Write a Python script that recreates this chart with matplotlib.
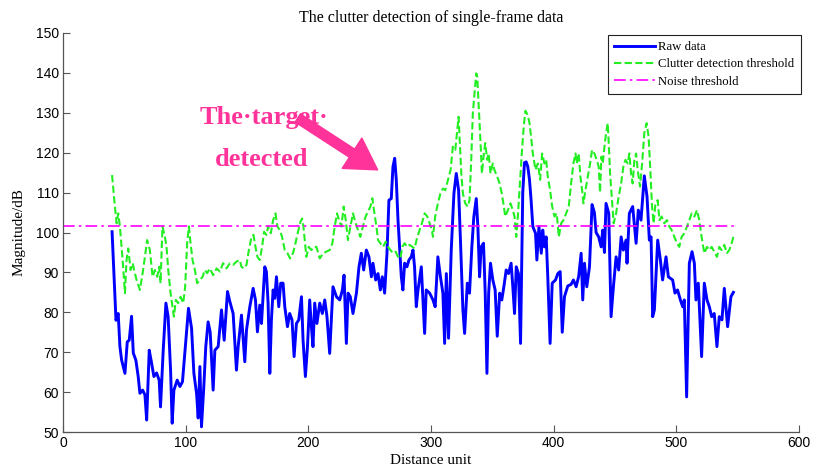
"""Clutter detection of single-frame data (raw data vs. thresholds)."""

import matplotlib
matplotlib.use("Agg")
import matplotlib.pyplot as plt

# Raw data (blue)
raw_x = [40, 43.2, 45, 46.4, 47.8, 50.5, 52.4, 54, 55.9, 57.3, 59.4, 61.3, 62.7, 64.9,
         66.8, 68.2, 70.3, 72.2, 74.1, 76.3, 78.4, 79.5, 81.7, 83.9, 85.7, 87.7, 89,
         90.4, 93.1, 95.3, 97.4, 100.2, 102.3, 104.8, 106.7, 108.9, 110.2, 111.6, 112.9,
         114.8, 116.4, 118.3, 120, 122.4, 123.8, 126.5, 129.2, 131.4, 134.1, 136, 138.7,
         141.4, 142.8, 145.5, 148.2, 149.6, 152.3, 155, 156.9, 158.5, 160.4, 161.8,
         164.5, 165.8, 167.2, 168.6, 169.9, 171.3, 172.6, 174, 175.9, 177.5, 179.4,
         180.8, 183, 184.8, 186.7, 188.4, 190.3, 192.2, 194.4, 195.7, 197.6, 199.3,
         201.1, 202.5, 203.8, 205.2, 207, 209.3, 211.4, 213.4, 215.2, 217.4, 220.1,
         222.9, 225.6, 227.8, 229.1, 231, 232.4, 234.2, 236.4, 237.8, 239.2, 241.3,
         243.2, 245.1, 247.3, 249.4, 251.4, 252.7, 254.9, 256.8, 258.7, 260.3, 262.2,
         264.1, 265.7, 267.6, 269, 270.4, 271.7, 273.1, 274.4, 275.8, 277.1, 278.5,
         280.4, 282, 283.9, 285.3, 286.6, 288, 289.4, 292.1, 294.8, 296.1, 298.9, 301.6,
         303.4, 305.6, 307.7, 309.7, 311.1, 312.5, 314.3, 316.5, 318.7, 320.6, 322.5,
         324.1, 326, 327.4, 329.6, 331.4, 333.3, 334.9, 336.9, 338.2, 339.6, 340.9,
         342.8, 344.2, 345.6, 347, 348.5, 350.4, 352.3, 354, 356, 357.7, 359.4, 361.3,
         363.2, 365.3, 366.7, 368.1, 369.5, 371.3, 373, 374.8, 376.2, 377.6, 378.9,
         380.3, 381.6, 383, 385.2, 386.3, 388, 389.9, 391.1, 392.5, 393.9, 395.2, 397.1,
         398.8, 401.5, 403.4, 405.3, 407, 408.8, 411.5, 414.2, 416.1, 418.3, 420.4,
         422.4, 423.7, 425.1, 427, 429.2, 431.3, 433.2, 434.6, 436.7, 438.7, 440, 441.4,
         442.7, 444.9, 446.8, 448.7, 450.9, 453, 455, 456.8, 459, 459.8, 461.7, 464.4,
         467.2, 469, 471.2, 473.9, 476.1, 478, 479.4, 480.7, 482.1, 484.8, 487, 488.8,
         491.6, 493.5, 497, 498.9, 501, 503.3, 505.2, 506.5, 508.4, 510.6, 512.8, 514.7,
         516, 517.9, 520.6, 522.8, 525, 526.9, 528.8, 530.9, 533.1, 535, 537.2, 539.1,
         541.8, 544.5, 546.5]
raw_db = [100.2, 78, 79.7, 71.4, 68, 64.7, 72.6, 73, 79, 69.8, 68, 63.9, 59.7, 60.5,
          59.3, 53, 70.5, 67.3, 63.9, 64.8, 63, 56.3, 70.5, 82.3, 78.9, 65.5, 52.2,
          60.5, 63, 61.4, 62.6, 73, 81, 76, 64.7, 59.6, 53.5, 66.4, 51.3,
          61.4, 71.4, 77.6, 75, 60.5, 70.5, 71.4, 80.6, 73, 85.2, 82.7, 79.7,
          65.5, 71.4, 79.3, 67.6, 75.6, 81.4, 86, 83.1, 75.1, 81.8, 77.2,
          91.4, 90.2, 82.3, 64.7, 78.1, 85.6, 83.5, 88.9, 81.4, 87.3, 87.3,
          81.4, 76.4, 79.7, 78.1, 68.9, 77.2, 78.1, 83.9, 73, 63.9, 71.4,
          83.1, 76.4, 71.4, 82.3, 77.2, 82.3, 79.7, 83.1, 78.9, 69.7, 86.4,
          83.9, 83.1, 85.6, 89.3, 72.2, 84.8, 83.9, 79.7, 82.3, 84.8, 91.4,
          94.8, 90.6, 95.6, 93.9, 88.9, 92.3, 88.1, 89.7, 85.6, 88.9, 84.8,
          94.8, 108.1, 108.5, 116.5, 118.6, 113.2, 103.1, 96.4, 88.9, 85.6, 92.3,
          91.4, 93.1, 93.9, 95.6, 91.4, 81.4, 85.6, 91.4, 74.7, 85.6, 84.8, 83.1,
          81.4, 93.9, 88.9, 84.8, 72.2, 89.7, 73.5, 95.6, 109.8, 114.8, 110.6,
          97.3, 80.6, 74.7, 87.3, 84.8, 96.4, 103.9, 108.5, 101.5, 88.9, 96.4,
          97.3, 84.8, 64.7, 84.8, 92.3, 88.1, 85.6, 74, 84.8, 83.1, 86.4, 90.6,
          89.7, 92.3, 86.4, 79.7, 91.4, 89.7, 72.2, 110, 117.5, 117.7, 116.5,
          113.2, 108.1, 101.5, 99.8, 93.1, 101.5, 94.8, 100.6, 96.4, 98.9, 88.9, 72.2,
          87.3, 88.1, 89.7, 90.2, 75, 83.9, 86.6, 87, 88.1, 86.4, 89,
          94.8, 83.1, 92.3, 86.4, 91.4, 107, 105, 100, 98.9, 96.4, 100.6, 95,
          107.3, 104.8, 78.9, 86.4, 93.9, 90.6, 98.9, 95.6, 98.1, 92.3, 104.8, 106.5,
          97.3, 105.6, 103.1, 114.2, 109, 98.1, 98.9, 78.9, 80.6, 98.1, 93.1, 88.1,
          93.9, 88.9, 88.1, 84.8, 85.6, 83.1, 81.4, 83.1, 58.8, 92.3, 95.2, 92.3,
          83.1, 87.3, 68.9, 87.3, 83.1, 81.4, 78.9, 79.7, 71.4, 78.9, 78.1, 86,
          76.4, 83.9, 85]

# Clutter detection threshold (green dashed)
clutter_x = [40, 42.3, 43.7, 45, 46.4, 48.6, 50.5, 51.8, 53.2, 55.1, 56.8, 58.6, 60, 62.7,
             64.9, 66.8, 68.6, 70.8, 73, 74.9, 76.8, 78.4, 79.5, 81.1, 83.1, 84.4, 85.8,
             87.7, 89.3, 90.4, 92, 93.9, 95.8, 98, 99.6, 101.2, 102.6, 104, 105.6, 107.5,
             109.4, 111.6, 113.8, 115.6, 117.5, 119.7, 122.4, 125.2, 127.9, 130.5, 133.3,
             136, 138.7, 141.4, 144.1, 145.5, 147.6, 149.6, 151.5, 153.7, 155.3, 156.9,
             158.5, 160.4, 162.3, 163.9, 165.8, 167.2, 169.4, 171.3, 173.2, 174.8, 176.7,
             178.6, 180.8, 183, 185.1, 187.5, 189.5, 191.6, 193.6, 194.9, 196, 197.1,
             198.4, 200.3, 202.5, 204.6, 206.6, 209.3, 212, 214.7, 217.4, 219.6, 221.5,
             223.4, 225, 227, 228.8, 230.5, 232.3, 234.3, 236.4, 238.6, 240.5, 242.4,
             244.5, 246.7, 248.6, 250.6, 252.2, 253.5, 255.5, 256.8, 258.7, 260.9, 263.1,
             264.9, 266.9, 269, 271.2, 273.1, 275, 276.6, 278.5, 280.4, 282.6, 284.8,
             286.6, 288.5, 290.7, 292.6, 294.8, 297, 298.9, 300.7, 301.6, 303.4, 305.6,
             307.7, 309.7, 311.6, 313.8, 316, 317.8, 319.8, 321.4, 322.5, 323.3, 324.7,
             326, 327.9, 330, 331.4, 332.8, 334.1, 335.5, 336.9, 337.7, 338.8, 340.4,
             341.5, 343.1, 344.2, 345.8, 347, 348.5, 350.4, 351.8, 354, 355.9, 357.7,
             359.4, 360.5, 362.7, 364.8, 366.7, 368.1, 369.5, 370.8, 373, 374, 375.7,
             377, 378.9, 380.3, 381.6, 383, 385.2, 387.1, 389, 390.6, 392.5, 393.9,
             395.2, 397.1, 398.8, 400.7, 402.5, 404.2, 406.1, 408, 410.2, 412.3, 414.2,
             416.1, 417.8, 418.8, 420.4, 421.8, 423.2, 424.3, 425.9, 427.8, 429.7, 431.3,
             433.2, 435.1, 436.7, 437.8, 438.9, 440, 441.4, 442.7, 444.1, 444.9, 446,
             447.6, 448.9, 450.9, 453, 455, 456.8, 458.5, 460.4, 461.7, 463.1, 464.4,
             465.8, 467.2, 468.5, 470.4, 472.1, 473.9, 475.8, 477.4, 478.8, 480.2, 481.5,
             482.9, 484.8, 486.2, 488, 490.2, 492.4, 494.3, 496.2, 498.4, 500.6, 502.4,
             504.3, 506.5, 508.7, 510.6, 512.5, 514.7, 516.8, 518.7, 520.6, 522.8, 525,
             526.9, 528.8, 530.9, 533.1, 535, 536.9, 539.1, 541.2, 543.2, 545.1, 546.5]
clutter_db = [114.4, 106.5, 102.3, 104.8, 101.5, 93.1, 84.8, 93.1, 96, 90.6, 92.3, 89.8, 88.1, 85.6,
              89.8, 93.9, 98.1, 95.6, 88.9, 90.6, 88.9, 91.4, 87.3, 101.5, 98.9, 96.4, 90.6,
              84.8, 81.4, 78.9, 83.1, 82.3, 83.9, 82.3, 86.4, 97.3, 101.5, 97.3, 93.1, 90.6,
              87.3, 88.1, 88.9, 90.6, 89.8, 91, 89.3, 91, 90.2, 92.3, 91,
              92.3, 91.9, 92.7, 93.1, 91.4, 91, 91.9, 95.6, 98.9, 99.4, 96.4,
              93.9, 93.1, 96.4, 100.2, 99.4, 101.5, 99.8, 103.1, 104.8, 101.5, 100.6,
              98.9, 95.6, 94.8, 93.5, 94.8, 97.3, 100.2, 102.7, 103.5, 101.5, 98.1,
              93.9, 96.4, 95.6, 96.4, 96.4, 93.5, 94.8, 95.2, 95.6, 97.3, 101.5,
              104.8, 103.1, 101.5, 106.5, 103.1, 98.1, 101.5, 104.8, 102.3, 100.6, 98.9,
              101.5, 104, 105.2, 106.5, 108.6, 105.6, 101.5, 98.1, 97.3, 96.4, 97.7,
              96.4, 95.6, 94.8, 95.2, 93.9, 93.5, 96.4, 97.3, 96.4, 96.9, 96.4,
              96, 98.5, 100.6, 102.3, 104.8, 104, 102.3, 100.6, 98.9, 104, 107.3,
              109.8, 111, 110.6, 113.2, 115.7, 121.5, 120.7, 125.7, 129, 124, 114.8,
              109.8, 107.3, 106.5, 108.1, 118.2, 129.9, 134.9, 139.9, 139, 132.4, 122.4,
              114.8, 119.8, 122.4, 118.2, 119.8, 114.8, 117.3, 115.6, 114, 112.3, 109.8,
              106.5, 104, 105.6, 107.3, 105.6, 104, 98.9, 104, 114.8, 119.8, 127,
              130.5, 129.4, 127.4, 124, 119.8, 115.7, 117.3, 113.2, 119.8, 117.3, 118.2,
              114, 110.6, 106.5, 104, 104.8, 98.9, 102.3, 103.1, 104.8, 106.5, 112.3,
              117.3, 119.8, 117.3, 119.8, 114, 110.6, 107.3, 110.6, 114, 117.3, 120.7,
              119.8, 118.2, 116.5, 110, 119, 117.3, 121.5, 124.9, 127.4, 122.4, 114.8,
              108.1, 102.3, 104.8, 109, 112.3, 116.5, 118.2, 117.3, 119.8, 114.8, 112.3,
              118.2, 119.8, 115.7, 111.5, 117.3, 125, 127.4, 124, 115.7, 106.5, 102.3,
              107, 108.1, 103.1, 104, 102.3, 103.1, 101.5, 100.6, 98.9, 97.3, 96.4,
              98.9, 99.8, 101.5, 103.1, 104.8, 104, 105.6, 103.1, 98.9, 94.8, 96.4,
              95.6, 96.4, 95.2, 93.9, 96.4, 95.6, 96.9, 94.8, 95.6, 97.3, 98.9]

# Noise threshold (magenta dash-dot), a flat level
noise_x = [0, 547]
noise_db = [101.7, 101.7]

x_ticks = [0, 100, 200, 300, 400, 500, 600]
y_ticks = [50, 60, 70, 80, 90, 100, 110, 120, 130, 140, 150]

SERIF = ["Liberation Serif", "DejaVu Serif"]
SANS = ["Liberation Sans", "DejaVu Sans"]
PINK = "#ff3399"

fig = plt.figure(figsize=(8.28, 4.68), dpi=100)
ax = fig.add_axes([63 / 828, 36 / 468, 736 / 828, 399 / 468])

ax.plot(raw_x, raw_db, color="#0000ff", lw=2.1, label="Raw data")
ax.plot(clutter_x, clutter_db, color="#22ee22", lw=1.5, ls=(0, (3.5, 1.6)),
        label="Clutter detection threshold")
ax.plot(noise_x, noise_db, color="#ff00ff", lw=1.2, ls=(0, (7, 2.5, 1.5, 2.5)),
        label="Noise threshold")

ax.set_xlim(0, 600)
ax.set_ylim(50, 150)
ax.set_xticks(x_ticks)
ax.set_yticks(y_ticks)
ax.tick_params(direction="in", length=5, width=0.8, color="#555555",
               labelsize=10, pad=3)
for lab in ax.get_xticklabels() + ax.get_yticklabels():
    lab.set_family(SANS)

# MATLAB look: box off, grey axes
for side in ("top", "right"):
    ax.spines[side].set_visible(False)
for side in ("left", "bottom"):
    ax.spines[side].set_color("#555555")
    ax.spines[side].set_linewidth(0.9)

ax.set_title("The clutter detection of single-frame data", family=SERIF,
             fontsize=11.5, pad=8)
ax.set_xlabel("Distance unit", family=SERIF, fontsize=11, labelpad=3)
ax.set_ylabel("Magnitude/dB", family=SERIF, fontsize=11, labelpad=7)

leg = ax.legend(loc="upper left", bbox_to_anchor=(0.74, 0.995),
                prop={"family": SERIF, "size": 9.2}, fancybox=False,
                framealpha=1, edgecolor="#222222", handlelength=3.2,
                handletextpad=0.25, labelspacing=0.4, borderpad=0.5,
                borderaxespad=0)
leg.get_frame().set_linewidth(0.8)

# Annotation pointing at the detected target
ax.text(111.6, 128.9, "The·target·", family=SERIF, fontsize=19,
        fontweight="bold", color=PINK, va="center", ha="left")
ax.text(123.8, 118.2, "detected", family=SERIF, fontsize=19,
        fontweight="bold", color=PINK, va="center", ha="left")
ax.annotate("", xy=(256.5, 115.7), xytext=(191.4, 128.7),
            arrowprops=dict(arrowstyle="simple,head_length=1.1,head_width=1.3,tail_width=0.35",
                            color=PINK, mutation_scale=20, shrinkA=0, shrinkB=0))

fig.savefig("out.png", dpi=100)
